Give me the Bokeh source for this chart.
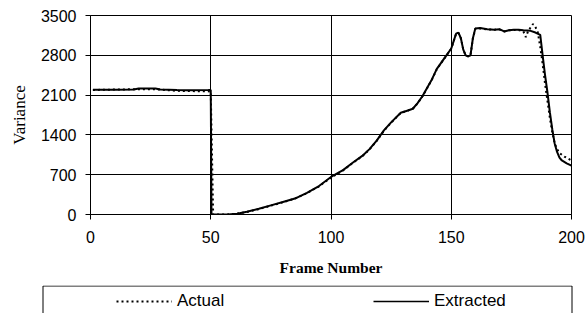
from bokeh.plotting import figure
from bokeh.layouts import column
from bokeh.models import Range1d, Legend, LegendItem, FixedTicker, BoxAnnotation
from bokeh.embed import file_html
from bokeh.resources import INLINE

# ---- data ----
x_ticks = [0, 50, 100, 150, 200]
y_ticks = [0, 700, 1400, 2100, 2800, 3500]

extracted_frames = [1, 10, 18, 20, 27, 29, 36, 40, 49, 50, 50.3, 57, 61, 65, 70, 75, 80, 85, 90, 95,
                    100, 105, 109, 113, 116, 119, 122, 125, 129, 132, 134, 136, 138, 140, 142, 144,
                    146, 148, 150, 151, 152, 153, 154, 155, 156, 157, 158, 159, 160, 162, 165, 168,
                    170, 172, 174, 176, 178, 180, 183, 185, 187, 188, 189, 190, 191, 192, 193, 194,
                    195, 196, 198, 200]
extracted_values = [2195, 2195, 2200, 2215, 2215, 2200, 2190, 2185, 2188, 2190, 0, 0, 15, 50, 100, 160,
                    220, 280, 380, 500, 660, 780, 910, 1030, 1150, 1300, 1480, 1620, 1790, 1830, 1860,
                    1960, 2080, 2230, 2380, 2560, 2680, 2800, 2920, 3050, 3180, 3200, 3100, 2900, 2800,
                    2780, 2800, 3100, 3270, 3280, 3260, 3250, 3260, 3220, 3240, 3250, 3250, 3240, 3230,
                    3200, 3160, 2800, 2450, 2150, 1800, 1500, 1250, 1100, 1000, 950, 900, 860]

actual_frames = [1, 20, 28, 36, 50, 51, 57, 61, 65, 70, 75, 80, 85, 90, 95, 100, 105, 109, 113, 116,
                 119, 122, 125, 129, 132, 134, 136, 138, 140, 142, 144, 146, 148, 150, 151, 152, 153,
                 154, 155, 156, 157, 158, 159, 160, 162, 165, 168, 170, 172, 174, 176, 178, 180, 181,
                 182, 184, 185, 186, 187, 188, 189, 190, 191, 192, 193, 194, 195, 197, 200]
actual_values = [2190, 2205, 2200, 2175, 2165, 0, 0, 15, 45, 95, 155, 215, 280, 375, 495, 650, 775,
                 905, 1025, 1145, 1295, 1470, 1615, 1785, 1830, 1860, 1955, 2075, 2225, 2375, 2555,
                 2675, 2795, 2915, 3045, 3175, 3195, 3100, 2900, 2800, 2780, 2800, 3100, 3265, 3275,
                 3255, 3250, 3255, 3220, 3240, 3245, 3245, 3220, 3120, 3230, 3350, 3300, 3200, 2950,
                 2650, 2300, 2000, 1700, 1450, 1250, 1150, 1080, 1020, 950]

series_labels = ["Actual", "Extracted"]
ACT_STYLE = dict(line_color="black", line_width=2, line_dash="2 3")
EXT_STYLE = dict(line_color="black", line_width=2)

# ---------------- main chart ----------------
p = figure(width=588, height=285, output_backend="svg", toolbar_location=None,
           x_range=Range1d(0, 200), y_range=Range1d(0, 3500),
           min_border_left=90, min_border_right=17, min_border_top=15, min_border_bottom=71)
p.background_fill_color = "white"
p.border_fill_color = "white"
p.outline_line_color = "black"
p.outline_line_width = 1

for ax, ticks in ((p.xaxis, x_ticks), (p.yaxis, y_ticks)):
    ax.ticker = FixedTicker(ticks=ticks)
    ax.axis_line_color = "black"
    ax.major_tick_line_color = "black"
    ax.major_tick_out = 5
    ax.major_tick_in = 0
    ax.minor_tick_line_color = None
    ax.major_label_text_font = "Liberation Sans"
    ax.major_label_text_font_size = "16px"
    ax.major_label_text_color = "black"
    ax.axis_label_text_color = "black"
    ax.axis_label_text_font = "Liberation Serif"

p.xaxis.major_label_standoff = 11
p.yaxis.major_label_standoff = 9
p.xaxis.axis_label = "Frame Number"
p.xaxis.axis_label_text_font_style = "bold"
p.xaxis.axis_label_text_font_size = "15.5px"
p.xaxis.axis_label_standoff = 13
p.yaxis.axis_label = "Variance"
p.yaxis.axis_label_text_font_style = "normal"
p.yaxis.axis_label_text_font_size = "17px"
p.yaxis.axis_label_standoff = 9

p.xgrid.ticker = FixedTicker(ticks=x_ticks)
p.ygrid.ticker = FixedTicker(ticks=y_ticks)
p.xgrid.grid_line_color = "black"
p.ygrid.grid_line_color = "black"
p.xgrid.grid_line_width = 1
p.ygrid.grid_line_width = 1

p.line(actual_frames, actual_values, **ACT_STYLE)
p.line(extracted_frames, extracted_values, **EXT_STYLE)

# ---------------- legend strip ----------------
p2 = figure(width=588, height=28, output_backend="svg", toolbar_location=None,
            x_range=Range1d(0, 588), y_range=Range1d(28, 0),
            x_axis_location=None, y_axis_location=None,
            min_border_left=0, min_border_right=0, min_border_top=0, min_border_bottom=0)
p2.grid.visible = False
p2.outline_line_color = None
p2.background_fill_color = "white"
p2.border_fill_color = "white"

for fig in (p, p2):
    if "frame_align" in fig.properties():
        fig.frame_align = False

frame_box = BoxAnnotation(left=42.5, right=571.5, top=0.5, bottom=40,
                          fill_alpha=0, line_color="black", line_width=1, line_alpha=1)
p2.add_layout(frame_box)

nan = float("nan")
l_act = p2.line(x=[nan], y=[nan], line_color="black", line_width=2, line_dash="2 3")
l_ext = p2.line(x=[nan], y=[nan], line_color="black", line_width=1.3)

leg = Legend(items=[LegendItem(label=series_labels[0], renderers=[l_act]),
                    LegendItem(label=series_labels[1], renderers=[l_ext])],
             location=(116, 2), orientation="horizontal", padding=0, margin=0, spacing=0,
             glyph_width=56, glyph_height=20, label_width=196, label_height=20,
             label_standoff=5, border_line_alpha=0, background_fill_alpha=0,
             label_text_font="Liberation Sans", label_text_font_size="17px",
             label_text_color="black")
p2.add_layout(leg, "center")

layout = column(p, p2, spacing=0)
open("out.html", "w").write(file_html(layout, INLINE))
